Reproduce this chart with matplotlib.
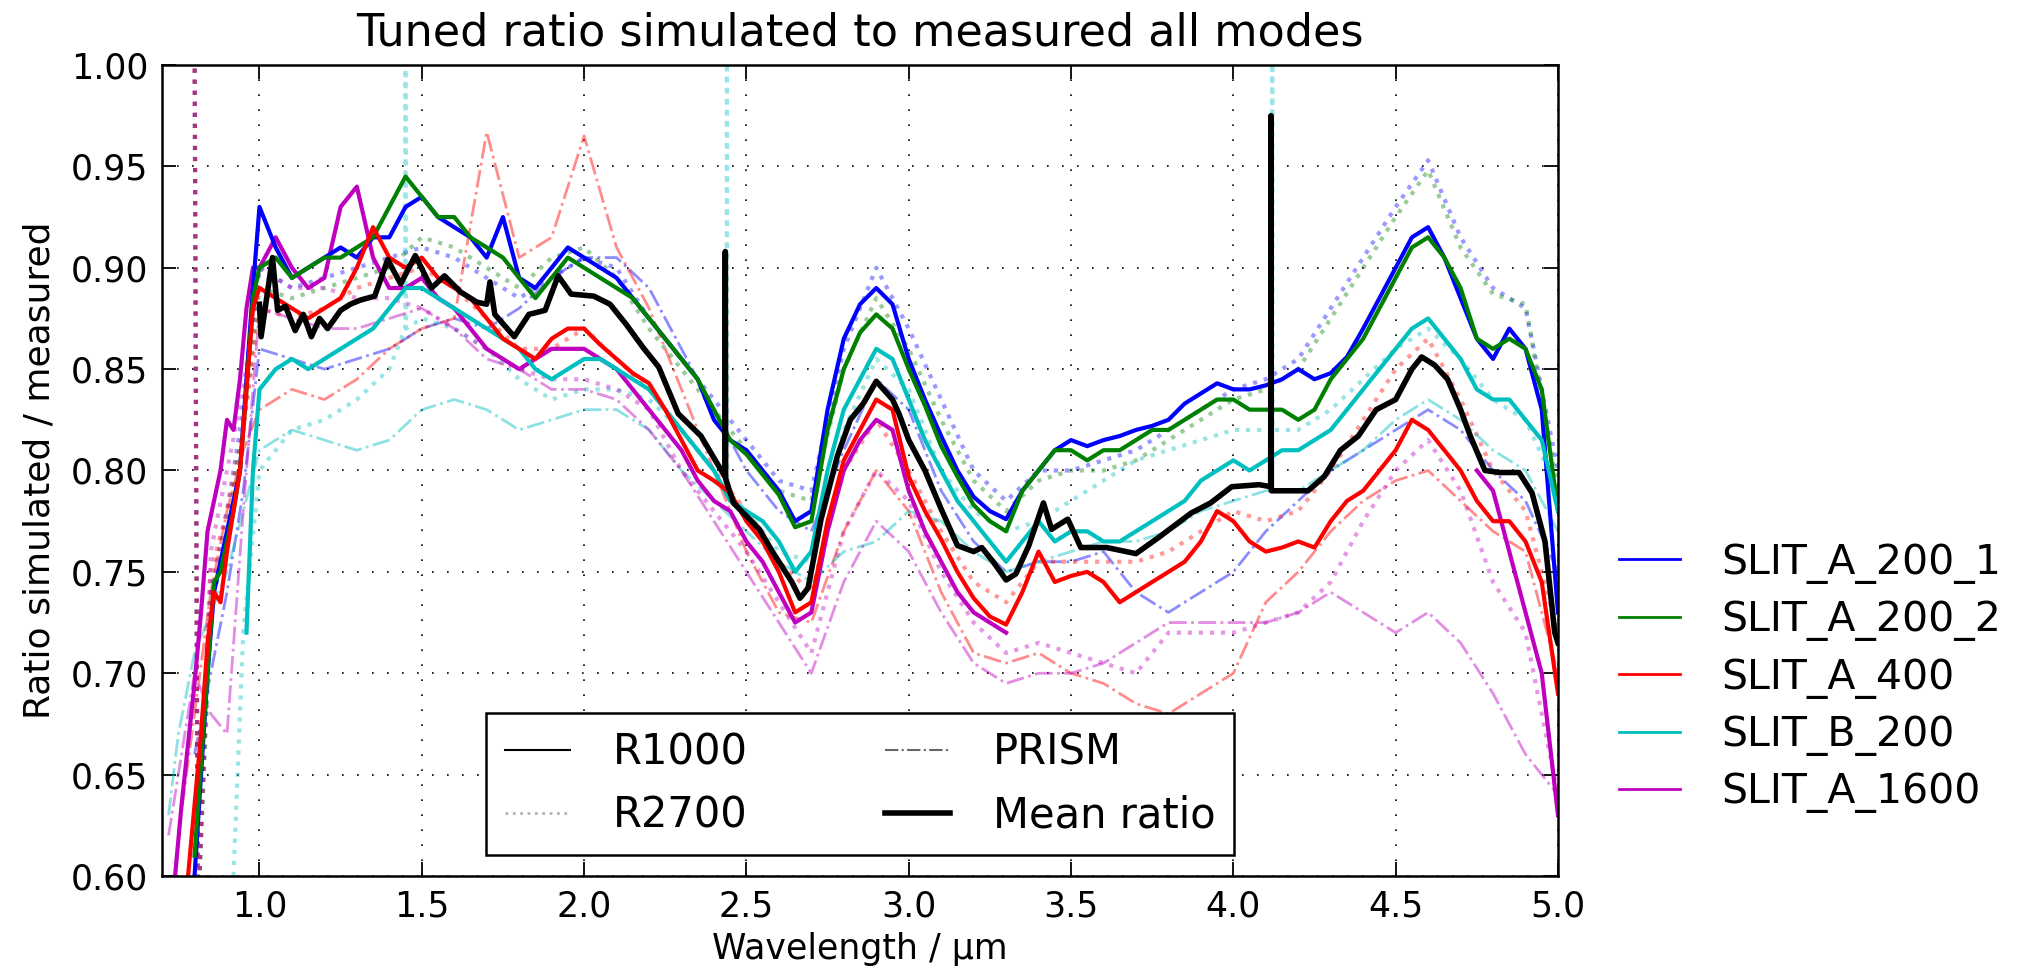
import numpy as np
import matplotlib
matplotlib.use("Agg")
import matplotlib.pyplot as plt
from matplotlib.lines import Line2D

nan = np.nan

# ---- slits and their colours (old matplotlib b, g, r, c, m) ----
slits = ["SLIT_A_200_1", "SLIT_A_200_2", "SLIT_A_400", "SLIT_B_200", "SLIT_A_1600"]
colours = ["#0000ff", "#008000", "#ff0000", "#00bfbf", "#bf00bf"]

# ---- R1000 ratios ----
wl_r1000 = [0.72, 0.74, 0.76, 0.78, 0.80, 0.82, 0.84, 0.86, 0.88, 0.90, 0.92, 0.94, 0.96, 0.98,
            1.00, 1.05, 1.10, 1.15, 1.20, 1.25, 1.30, 1.35, 1.40, 1.45,
            1.50, 1.55, 1.60, 1.65, 1.70, 1.75, 1.80, 1.85, 1.90, 1.95,
            2.00, 2.05, 2.10, 2.15, 2.20, 2.25, 2.30, 2.35, 2.40, 2.45,
            2.50, 2.55, 2.60, 2.65, 2.70, 2.75, 2.80, 2.85, 2.90, 2.95,
            3.00, 3.05, 3.10, 3.15, 3.20, 3.25, 3.30, 3.35, 3.40, 3.45,
            3.50, 3.55, 3.60, 3.65, 3.70, 3.75, 3.80, 3.85, 3.90, 3.95,
            4.00, 4.05, 4.10, 4.15, 4.20, 4.25, 4.30, 4.35, 4.40, 4.45,
            4.50, 4.55, 4.60, 4.65, 4.70, 4.75, 4.80, 4.85, 4.90, 4.95,
            5.00]

a200_1_r1000 = [nan, nan, nan, nan, 0.60, 0.65, 0.70, 0.74, 0.755, 0.77, 0.785, 0.80, 0.845, 0.89,
                0.93, 0.91, 0.895, 0.90, 0.905, 0.91, 0.905, 0.915, 0.915, 0.93,
                0.935, 0.925, 0.92, 0.915, 0.905, 0.925, 0.895, 0.89, 0.90, 0.91,
                0.905, 0.90, 0.895, 0.885, 0.875, 0.865, 0.855, 0.845, 0.825, 0.815,
                0.81, 0.80, 0.79, 0.775, 0.78, 0.83, 0.865, 0.882, 0.89, 0.882,
                0.855, 0.835, 0.817, 0.80, 0.787, 0.78, 0.776, 0.79, 0.80, 0.81,
                0.815, 0.812, 0.815, 0.817, 0.82, 0.822, 0.825, 0.833, 0.838, 0.843,
                0.84, 0.84, 0.842, 0.845, 0.85, 0.845, 0.848, 0.856, 0.87, 0.885,
                0.90, 0.915, 0.92, 0.905, 0.885, 0.865, 0.855, 0.87, 0.86, 0.83,
                0.73]
a200_2_r1000 = [nan, nan, nan, nan, 0.61, 0.655, 0.70, 0.745, 0.75, 0.765, 0.78, 0.80, 0.84, 0.885,
                0.90, 0.905, 0.895, 0.90, 0.905, 0.905, 0.91, 0.915, 0.93, 0.945,
                0.935, 0.925, 0.925, 0.915, 0.91, 0.905, 0.895, 0.885, 0.895, 0.905,
                0.90, 0.895, 0.89, 0.885, 0.875, 0.865, 0.855, 0.845, 0.83, 0.815,
                0.808, 0.798, 0.788, 0.772, 0.775, 0.82, 0.85, 0.868, 0.877, 0.87,
                0.85, 0.832, 0.812, 0.797, 0.783, 0.775, 0.77, 0.79, 0.80, 0.81,
                0.81, 0.805, 0.81, 0.81, 0.815, 0.82, 0.82, 0.825, 0.83, 0.835,
                0.835, 0.83, 0.83, 0.83, 0.825, 0.83, 0.845, 0.855, 0.865, 0.88,
                0.895, 0.91, 0.915, 0.905, 0.89, 0.865, 0.86, 0.865, 0.86, 0.84,
                0.78]
a400_r1000 = [nan, nan, nan, 0.60, 0.635, 0.67, 0.715, 0.74, 0.735, 0.76, 0.78, 0.80, 0.84, 0.88,
              0.89, 0.885, 0.88, 0.875, 0.88, 0.885, 0.90, 0.92, 0.905, 0.90,
              0.905, 0.895, 0.89, 0.885, 0.875, 0.865, 0.86, 0.855, 0.865, 0.87,
              0.87, 0.862, 0.855, 0.848, 0.843, 0.83, 0.815, 0.80, 0.795, 0.789,
              0.775, 0.765, 0.75, 0.73, 0.735, 0.775, 0.805, 0.82, 0.835, 0.83,
              0.797, 0.78, 0.766, 0.75, 0.737, 0.728, 0.724, 0.74, 0.76, 0.745,
              0.748, 0.75, 0.745, 0.735, 0.74, 0.745, 0.75, 0.755, 0.765, 0.78,
              0.775, 0.765, 0.76, 0.762, 0.765, 0.762, 0.775, 0.785, 0.79, 0.80,
              0.81, 0.825, 0.82, 0.81, 0.80, 0.785, 0.775, 0.775, 0.765, 0.745,
              0.69]
b200_r1000 = [nan, nan, nan, nan, nan, nan, nan, nan, nan, nan, nan, nan, 0.72, 0.80,
              0.84, 0.85, 0.855, 0.85, 0.855, 0.86, 0.865, 0.87, 0.88, 0.89,
              0.89, 0.885, 0.88, 0.875, 0.87, 0.865, 0.86, 0.85, 0.845, 0.85,
              0.855, 0.855, 0.85, 0.845, 0.84, 0.83, 0.82, 0.81, 0.80, 0.785,
              0.78, 0.775, 0.765, 0.75, 0.76, 0.80, 0.83, 0.845, 0.86, 0.855,
              0.835, 0.815, 0.80, 0.785, 0.775, 0.765, 0.755, 0.765, 0.775, 0.765,
              0.77, 0.77, 0.765, 0.765, 0.77, 0.775, 0.78, 0.785, 0.795, 0.80,
              0.805, 0.80, 0.805, 0.81, 0.81, 0.815, 0.82, 0.83, 0.84, 0.85,
              0.86, 0.87, 0.875, 0.865, 0.855, 0.84, 0.835, 0.835, 0.825, 0.815,
              0.78]
a1600_r1000 = [nan, 0.60, 0.635, 0.665, 0.695, 0.73, 0.77, 0.785, 0.80, 0.825, 0.82, 0.845, 0.88, 0.90,
               0.90, 0.915, 0.90, 0.89, 0.895, 0.93, 0.94, 0.905, 0.89, 0.89,
               0.895, 0.885, 0.88, 0.87, 0.86, 0.855, 0.85, 0.855, 0.86, 0.86,
               0.86, 0.855, 0.85, 0.84, 0.83, 0.82, 0.81, 0.795, 0.785, 0.78,
               0.765, 0.755, 0.74, 0.725, 0.73, 0.77, 0.80, 0.815, 0.825, 0.82,
               0.79, 0.77, 0.755, 0.74, 0.73, 0.725, 0.72, nan, nan, nan,
               nan, nan, nan, nan, nan, nan, nan, nan, nan, nan,
               nan, nan, nan, nan, nan, nan, nan, nan, nan, nan,
               nan, nan, nan, nan, nan, 0.80, 0.79, 0.76, 0.73, 0.70,
               0.63]

# ---- R2700 ratios (dotted) ----
wl_r2700 = [0.80, 0.81, 0.85, 0.90, 0.95,
            1.0, 1.1, 1.2, 1.3, 1.4, 1.5, 1.6, 1.7, 1.8, 1.9,
            2.0, 2.1, 2.2, 2.3, 2.4, 2.5, 2.6, 2.7, 2.8, 2.9,
            3.0, 3.1, 3.2, 3.3, 3.4, 3.5, 3.6, 3.7, 3.8, 3.9,
            4.0, 4.1, 4.2, 4.3, 4.4, 4.5, 4.6, 4.7, 4.8, 4.9, 5.0]
a200_1_r2700 = [1.02, 0.58, 0.74, 0.78, 0.83,
                0.90, 0.89, 0.895, 0.90, 0.905, 0.91, 0.905, 0.895, 0.885, 0.895,
                0.905, 0.90, 0.875, 0.855, 0.835, 0.815, 0.795, 0.79, 0.86, 0.90,
                0.87, 0.835, 0.80, 0.785, 0.80, 0.80, 0.805, 0.81, 0.82, 0.83,
                0.84, 0.845, 0.855, 0.88, 0.905, 0.93, 0.953, 0.915, 0.89, 0.88, 0.80]
a200_2_r2700 = [1.02, 0.58, 0.73, 0.77, 0.82,
                0.89, 0.885, 0.89, 0.895, 0.90, 0.915, 0.91, 0.90, 0.89, 0.905,
                0.91, 0.895, 0.87, 0.85, 0.83, 0.81, 0.79, 0.785, 0.85, 0.885,
                0.86, 0.825, 0.795, 0.78, 0.795, 0.80, 0.80, 0.805, 0.815, 0.825,
                0.835, 0.84, 0.85, 0.875, 0.90, 0.925, 0.948, 0.91, 0.887, 0.882, 0.79]
a400_r2700 = [1.02, 0.58, 0.75, 0.78, 0.82,
              0.88, 0.875, 0.88, 0.89, 0.895, 0.90, 0.89, 0.875, 0.86, 0.86,
              0.87, 0.855, 0.84, 0.82, 0.80, 0.78, 0.755, 0.74, 0.80, 0.825,
              0.80, 0.77, 0.745, 0.735, 0.755, 0.755, 0.755, 0.755, 0.76, 0.77,
              0.78, 0.775, 0.78, 0.80, 0.825, 0.85, 0.865, 0.835, 0.80, 0.78, 0.72]
a1600_r2700 = [1.02, 0.58, 0.76, 0.80, 0.84,
               0.90, 0.89, 0.89, 0.885, 0.885, 0.88, 0.87, 0.86, 0.85, 0.845,
               0.845, 0.84, 0.83, 0.80, 0.78, 0.76, 0.735, 0.71, 0.77, 0.80,
               0.785, 0.75, 0.725, 0.71, 0.715, 0.71, 0.705, 0.70, 0.72, 0.72,
               0.72, 0.725, 0.73, 0.745, 0.775, 0.80, 0.815, 0.79, 0.745, 0.72, 0.64]
# SLIT_B_200 R2700 has a few bad pixels that shoot off the top
wl_b200_r2700 = [0.92, 0.95, 1.00, 1.10, 1.20, 1.30, 1.40, 1.449, 1.450, 1.451,
                 1.50, 1.60, 1.70, 1.80, 1.90, 2.00, 2.10, 2.20, 2.30, 2.40,
                 2.439, 2.440, 2.441, 2.50, 2.60, 2.70, 2.80, 2.90, 3.00, 3.10,
                 3.20, 3.30, 3.40, 3.50, 3.60, 3.70, 3.80, 3.90, 4.00, 4.10,
                 4.119, 4.120, 4.121, 4.20, 4.30, 4.40, 4.50, 4.60, 4.70, 4.80,
                 4.90, 5.00]
b200_r2700 = [0.60, 0.72, 0.80, 0.82, 0.825, 0.835, 0.85, 0.87, 1.02, 0.87,
              0.875, 0.87, 0.86, 0.845, 0.835, 0.84, 0.84, 0.835, 0.82, 0.80,
              0.79, 1.02, 0.79, 0.78, 0.76, 0.755, 0.82, 0.855, 0.84, 0.80,
              0.78, 0.77, 0.775, 0.785, 0.795, 0.805, 0.81, 0.815, 0.82, 0.82,
              0.82, 1.02, 0.82, 0.82, 0.83, 0.845, 0.86, 0.87, 0.855, 0.835,
              0.825, 0.79]

# ---- PRISM ratios (dash-dot) ----
wl_prism = [0.72, 0.75, 0.80, 0.85, 0.90, 0.95,
            1.0, 1.1, 1.2, 1.3, 1.4, 1.5, 1.6, 1.7, 1.8, 1.9,
            2.0, 2.1, 2.2, 2.3, 2.4, 2.5, 2.6, 2.7, 2.8, 2.9,
            3.0, 3.1, 3.2, 3.3, 3.4, 3.5, 3.6, 3.7, 3.8, 3.9,
            4.0, 4.1, 4.2, 4.3, 4.4, 4.5, 4.6, 4.7, 4.8, 4.9, 5.0]
a200_1_prism = [nan, nan, 0.66, 0.70, 0.74, 0.79,
                0.86, 0.855, 0.85, 0.855, 0.86, 0.87, 0.875, 0.87, 0.88, 0.895,
                0.905, 0.905, 0.89, 0.86, 0.83, 0.80, 0.78, 0.77, 0.81, 0.845,
                0.83, 0.79, 0.765, 0.75, 0.755, 0.755, 0.76, 0.74, 0.73, 0.74,
                0.75, 0.77, 0.785, 0.80, 0.81, 0.82, 0.83, 0.82, 0.80, 0.785, 0.75]
a400_prism = [nan, 0.62, 0.68, 0.74, 0.78, 0.81,
              0.83, 0.84, 0.835, 0.845, 0.86, 0.87, 0.875, 0.967, 0.905, 0.915,
              0.965, 0.91, 0.88, 0.84, 0.80, 0.76, 0.73, 0.725, 0.77, 0.80,
              0.78, 0.74, 0.71, 0.705, 0.71, 0.70, 0.695, 0.685, 0.68, 0.69,
              0.70, 0.735, 0.75, 0.77, 0.785, 0.795, 0.80, 0.785, 0.77, 0.76, 0.70]
b200_prism = [0.63, 0.67, 0.71, 0.73, 0.75, 0.78,
              0.81, 0.82, 0.815, 0.81, 0.815, 0.83, 0.835, 0.83, 0.82, 0.825,
              0.83, 0.83, 0.82, 0.80, 0.785, 0.77, 0.755, 0.745, 0.76, 0.765,
              0.78, 0.775, 0.76, 0.75, 0.755, 0.76, 0.765, 0.765, 0.77, 0.78,
              0.785, 0.79, 0.79, 0.80, 0.81, 0.825, 0.835, 0.825, 0.81, 0.80, 0.77]
a1600_prism = [0.62, 0.65, 0.70, 0.68, 0.67, 0.78,
               0.88, 0.875, 0.87, 0.87, 0.875, 0.88, 0.87, 0.855, 0.85, 0.84,
               0.84, 0.835, 0.82, 0.80, 0.775, 0.75, 0.725, 0.70, 0.745, 0.775,
               0.76, 0.73, 0.705, 0.695, 0.70, 0.70, 0.705, 0.715, 0.725, 0.725,
               0.725, 0.725, 0.73, 0.74, 0.73, 0.72, 0.73, 0.715, 0.69, 0.66, 0.64]

# ---- mean ratio over all slits and modes ----
wl_mean = [1.000, 1.005, 1.04, 1.056, 1.08, 1.11, 1.135, 1.16, 1.185, 1.21,
           1.25, 1.28, 1.31, 1.355, 1.395, 1.435, 1.48, 1.53, 1.57, 1.62,
           1.67, 1.70, 1.71, 1.725, 1.785, 1.83, 1.88, 1.92, 1.96, 2.03,
           2.08, 2.13, 2.18, 2.23, 2.29, 2.36, 2.434, 2.435, 2.436, 2.46,
           2.54, 2.58, 2.64, 2.665, 2.69, 2.73, 2.78, 2.82, 2.86, 2.90,
           2.95, 2.97, 3.00, 3.05, 3.10, 3.15, 3.20, 3.225, 3.26, 3.30,
           3.33, 3.37, 3.415, 3.44, 3.49, 3.53, 3.61, 3.70, 3.77, 3.82,
           3.87, 3.93, 3.995, 4.08, 4.115, 4.116, 4.117, 4.18, 4.23, 4.28,
           4.33, 4.385, 4.44, 4.50, 4.55, 4.58, 4.62, 4.66, 4.70, 4.73,
           4.775, 4.82, 4.88, 4.92, 4.96, 4.99, 5.00]
mean_ratio = [0.882, 0.866, 0.905, 0.879, 0.881, 0.869, 0.877, 0.866, 0.875, 0.870,
              0.879, 0.882, 0.884, 0.886, 0.904, 0.892, 0.906, 0.890, 0.896, 0.888,
              0.883, 0.882, 0.893, 0.877, 0.866, 0.877, 0.879, 0.896, 0.887, 0.886,
              0.882, 0.872, 0.861, 0.851, 0.828, 0.817, 0.797, 0.908, 0.796, 0.784,
              0.771, 0.760, 0.745, 0.737, 0.742, 0.776, 0.807, 0.825, 0.833, 0.844,
              0.835, 0.828, 0.815, 0.800, 0.781, 0.763, 0.760, 0.762, 0.755, 0.746,
              0.749, 0.763, 0.784, 0.771, 0.776, 0.762, 0.762, 0.759, 0.767, 0.773,
              0.779, 0.784, 0.792, 0.793, 0.792, 0.975, 0.790, 0.790, 0.790, 0.797,
              0.810, 0.817, 0.830, 0.835, 0.850, 0.856, 0.852, 0.845, 0.830, 0.817,
              0.800, 0.799, 0.799, 0.789, 0.765, 0.720, 0.715]

r1000 = [a200_1_r1000, a200_2_r1000, a400_r1000, b200_r1000, a1600_r1000]
r2700 = [(wl_r2700, a200_1_r2700), (wl_r2700, a200_2_r2700), (wl_r2700, a400_r2700),
         (wl_b200_r2700, b200_r2700), (wl_r2700, a1600_r2700)]
prism = [a200_1_prism, None, a400_prism, b200_prism, a1600_prism]

# ---- figure ----
fig = plt.figure(figsize=(20.31, 9.67), dpi=100)
ax = fig.add_axes([0.0798, 0.0941, 0.6873, 0.8387])

# faint high-res / prism curves first, underneath
for i in range(len(slits)):
    x, y = r2700[i]
    ax.plot(x, y, ls=':', lw=3, color=colours[i], alpha=0.4)
    if prism[i] is not None:
        ax.plot(wl_prism, prism[i], ls='-.', lw=2, color=colours[i], alpha=0.45)

# R1000 (drawn so SLIT_A_1600 sits underneath, SLIT_A_400 on top)
for i in [4, 0, 1, 3, 2]:
    ax.plot(wl_r1000, r1000[i], ls='-', lw=3, color=colours[i])

ax.plot(wl_mean, mean_ratio, color='k', lw=4, zorder=10)

ax.set_xlim(0.7, 5.0)
ax.set_ylim(0.6, 1.0)
ax.set_xticks([1.0, 1.5, 2.0, 2.5, 3.0, 3.5, 4.0, 4.5, 5.0])
ax.set_xticklabels(["1.0", "1.5", "2.0", "2.5", "3.0", "3.5", "4.0", "4.5", "5.0"])
ax.set_yticks([0.60, 0.65, 0.70, 0.75, 0.80, 0.85, 0.90, 0.95, 1.00])
ax.set_yticklabels(["0.60", "0.65", "0.70", "0.75", "0.80", "0.85", "0.90", "0.95", "1.00"])
ax.tick_params(direction='in', length=10, width=1.3, top=True, right=True,
               labelsize=25, pad=10)
ax.grid(True, color='k', ls=(0, (1, 8)), lw=1.2)
for s in ax.spines.values():
    s.set_linewidth(1.8)

ax.set_title("Tuned ratio simulated to measured all modes", fontsize=32, pad=14)
ax.set_xlabel("Wavelength / µm", fontsize=25, labelpad=6)
ax.set_ylabel("Ratio simulated / measured", fontsize=26, labelpad=10)

# legend for the modes (inside)
mode_handles = [Line2D([], [], color='k', lw=1.5, ls='-'),
                Line2D([], [], color='k', lw=2, ls=':', alpha=0.3),
                Line2D([], [], color='k', lw=1.5, ls='-.', alpha=0.6),
                Line2D([], [], color='k', lw=4)]
leg1 = ax.legend(mode_handles, ["R1000", "R2700", "PRISM", "Mean ratio"],
                 loc='lower center', bbox_to_anchor=(0.5, 0.026), borderaxespad=0,
                 ncol=2, fontsize=30, handlelength=1.56, handletextpad=1.03,
                 columnspacing=3.3, labelspacing=0.5, borderpad=0.45,
                 fancybox=False, framealpha=1)
leg1.get_frame().set_edgecolor('k')
leg1.get_frame().set_linewidth(1.8)
ax.add_artist(leg1)

# legend for the slits (outside, right)
slit_handles = [Line2D([], [], color=c, lw=2) for c in colours]
ax.legend(slit_handles, slits, loc='center left', bbox_to_anchor=(1.032, 0.244),
          borderaxespad=0, frameon=False, fontsize=29.5, handlelength=1.5,
          handletextpad=1.0, labelspacing=0.4)

fig.savefig("out.png", dpi=100)
